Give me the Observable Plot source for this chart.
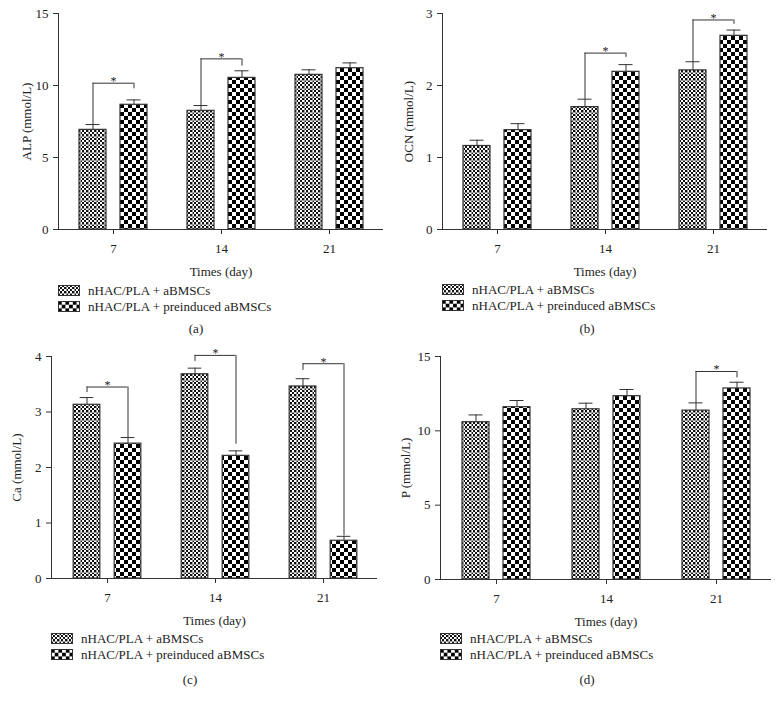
<!DOCTYPE html>
<html>
<head>
<meta charset="utf-8">
<script src="https://cdn.jsdelivr.net/npm/d3@7"></script>
<script src="https://cdn.jsdelivr.net/npm/@observablehq/plot@0.6"></script>
<style>
  body { margin: 0; background: #fff; }
  #root { position: relative; width: 782px; height: 706px; font-family: "Liberation Serif", "Times New Roman", serif; color: #222; }
  .panel { position: absolute; width: 391px; height: 353px; }
  .panel svg.chart { position: absolute; left: 0; top: 0; overflow: visible; }
  .legend { position: absolute; font-size: 13px; line-height: 15.5px; }
  .row { display: flex; align-items: center; height: 15.5px; white-space: nowrap; }
  .sw { width: 22px; height: 11px; margin-right: 8px; display: block; }
  .cap { position: absolute; font-size: 13px; transform: translate(-50%, -50%); }
</style>
</head>
<body>
<svg width="0" height="0" style="position:absolute">
  <defs>
    <pattern id="pFine" patternUnits="userSpaceOnUse" width="8" height="8">
      <rect width="8" height="8" fill="#fff"/>
      <path d="M0 0h2v2H0zM4 0h2v2H4zM2 2h2v2H2zM6 2h2v2H6zM0 4h2v2H0zM4 4h2v2H4zM2 6h2v2H2zM6 6h2v2H6z" fill="#111"/>
      <path d="M0 0.5H8M0.5 0V8" stroke="#9a9a9a" stroke-width="1"/>
    </pattern>
    <pattern id="pBig" patternUnits="userSpaceOnUse" width="8" height="8">
      <rect width="8" height="8" fill="#fff"/>
      <path d="M0 0h4v4H0zM4 4h4v4H4z" fill="#000"/>
    </pattern>
    <pattern id="pBigLeg" patternUnits="userSpaceOnUse" width="7.4" height="7.4">
      <rect width="7.4" height="7.4" fill="#fff"/>
      <path d="M0 0h3.7v3.7H0zM3.7 3.7h3.7v3.7H3.7z" fill="#000"/>
    </pattern>
  </defs>
</svg>
<div id="root"></div>
<script>
// ---------- data ----------
const days = ["7", "14", "21"];
const groupNames = ["nHAC/PLA + aBMSCs", "nHAC/PLA + preinduced aBMSCs"];

// (a) ALP
const alpMean1 = [6.92, 8.24, 10.74];
const alpSd1   = [0.37, 0.37, 0.35];
const alpMean2 = [8.66, 10.53, 11.20];
const alpSd2   = [0.34, 0.49, 0.37];
const alpBrackets = [
  {day: "7",  top: 10.16, left: 7.29, right: 9.77},
  {day: "14", top: 11.85, left: 8.61, right: 11.34}
];
const alpTicks = [0, 5, 10, 15];

// (b) OCN
const ocnMean1 = [1.16, 1.70, 2.21];
const ocnSd1   = [0.08, 0.11, 0.12];
const ocnMean2 = [1.38, 2.19, 2.69];
const ocnSd2   = [0.09, 0.10, 0.08];
const ocnBrackets = [
  {day: "14", top: 2.45, left: 1.81, right: 2.39},
  {day: "21", top: 2.91, left: 2.33, right: 2.85}
];
const ocnTicks = [0, 1, 2, 3];

// (c) Ca
const caMean1 = [3.13, 3.68, 3.46];
const caSd1   = [0.13, 0.11, 0.14];
const caMean2 = [2.43, 2.21, 0.68];
const caSd2   = [0.11, 0.09, 0.08];
const caBrackets = [
  {day: "7",  top: 3.45, left: 3.35, right: 2.54},
  {day: "14", top: 4.02, left: 3.91, right: 2.42},
  {day: "21", top: 3.87, left: 3.75, right: 0.77}
];
const caTicks = [0, 1, 2, 3, 4];

// (d) P
const pMean1 = [10.58, 11.45, 11.36];
const pSd1   = [0.49, 0.41, 0.52];
const pMean2 = [11.59, 12.33, 12.85];
const pSd2   = [0.45, 0.45, 0.42];
const pBrackets = [
  {day: "21", top: 13.99, left: 11.88, right: 13.56}
];
const pTicks = [0, 5, 10, 15];

// ---------- panels ----------
const panels = [
  {cap: "(a)", left: 0, top: 0, label: "ALP (mmol/L)", ticks: alpTicks, m1: alpMean1, s1: alpSd1, m2: alpMean2, s2: alpSd2, br: alpBrackets,
   L: {ml: 58, mr: 8, mt: 13, axisB: 229, ylo: 37}, leg: {x: 58, y: 283}, capPos: {x: 196, y: 329}},
  {cap: "(b)", left: 391, top: 0, label: "OCN (mmol/L)", ticks: ocnTicks, m1: ocnMean1, s1: ocnSd1, m2: ocnMean2, s2: ocnSd2, br: ocnBrackets,
   L: {ml: 51, mr: 15, mt: 13, axisB: 229, ylo: 39}, leg: {x: 51, y: 282}, capPos: {x: 196, y: 329}},
  {cap: "(c)", left: 0, top: 340, label: "Ca (mmol/L)", ticks: caTicks, m1: caMean1, s1: caSd1, m2: caMean2, s2: caSd2, br: caBrackets,
   L: {ml: 51, mr: 14, mt: 16, axisB: 238, ylo: 40}, leg: {x: 51, y: 291}, capPos: {x: 190, y: 340}},
  {cap: "(d)", left: 391, top: 340, label: "P (mmol/L)", ticks: pTicks, m1: pMean1, s1: pSd1, m2: pMean2, s2: pSd2, br: pBrackets,
   L: {ml: 49, mr: 11, mt: 16, axisB: 239, ylo: 40}, leg: {x: 49, y: 291}, capPos: {x: 196, y: 340}}
];

const root = document.getElementById("root");
const W = 391;
const off = 20.5;   // bar centre offset from band centre
const barW = 27;
const capW = 14;
const lineC = "#333";
const FS = 13;

for (const p of panels) {
  const rows = days.map((d, i) => ({day: d, m1: p.m1[i], s1: p.s1[i], m2: p.m2[i], s2: p.s2[i]}));
  const H = p.L.axisB + 52;
  const bw = (W - p.L.ml - p.L.mr - 1) / days.length;
  const yMax = p.ticks[p.ticks.length - 1];

  const chart = Plot.plot({
    width: W,
    height: H,
    marginLeft: p.L.ml,
    marginRight: p.L.mr,
    marginTop: p.L.mt,
    marginBottom: H - p.L.axisB,
    style: {fontFamily: '"Liberation Serif", "Times New Roman", serif', fontSize: FS + "px", color: lineC, background: "transparent"},
    x: {type: "band", domain: days, padding: 0, insetLeft: 1},
    y: {domain: [0, yMax]},
    marks: [
      Plot.barY(rows, {x: "day", y: "m1", fill: "url(#pFine)", stroke: lineC, strokeWidth: 1.2,
        insetLeft: bw / 2 - off - barW / 2, insetRight: bw / 2 + off - barW / 2}),
      Plot.barY(rows, {x: "day", y: "m2", fill: "url(#pBig)", stroke: lineC, strokeWidth: 1.2,
        insetLeft: bw / 2 + off - barW / 2, insetRight: bw / 2 - off - barW / 2}),
      // error bars
      Plot.ruleX(rows, {x: "day", y1: "m1", y2: d => d.m1 + d.s1, dx: -off, stroke: lineC}),
      Plot.tickY(rows, {x: "day", y: d => d.m1 + d.s1, dx: -off, stroke: lineC, insetLeft: bw / 2 - capW / 2, insetRight: bw / 2 - capW / 2}),
      Plot.ruleX(rows, {x: "day", y1: "m2", y2: d => d.m2 + d.s2, dx: off, stroke: lineC}),
      Plot.tickY(rows, {x: "day", y: d => d.m2 + d.s2, dx: off, stroke: lineC, insetLeft: bw / 2 - capW / 2, insetRight: bw / 2 - capW / 2}),
      // significance brackets
      Plot.ruleX(p.br, {x: "day", y1: "left", y2: "top", dx: -off, stroke: lineC}),
      Plot.ruleX(p.br, {x: "day", y1: "right", y2: "top", dx: off, stroke: lineC}),
      Plot.tickY(p.br, {x: "day", y: "top", stroke: lineC, insetLeft: bw / 2 - off, insetRight: bw / 2 - off}),
      Plot.text(p.br, {x: "day", y: "top", text: () => "*", lineAnchor: "middle", dy: -2, fontSize: 12, fill: "#222"}),
      // axes
      Plot.ruleY([0], {stroke: lineC}),
      Plot.frame({anchor: "left", stroke: lineC}),
      Plot.axisY({ticks: p.ticks, tickFormat: d3.format("d"), tickSize: 5, tickPadding: 5, fontSize: FS,
        label: p.label, labelAnchor: "center", labelOffset: p.L.ylo, labelArrow: "none", fill: "#222"}),
      Plot.axisX({tickSize: 5, tickPadding: 9, fontSize: FS, label: "Times (day)", labelAnchor: "center", labelOffset: 46, fill: "#222"})
    ]
  });
  chart.classList.add("chart");

  const panel = document.createElement("div");
  panel.className = "panel";
  panel.style.left = p.left + "px";
  panel.style.top = p.top + "px";
  panel.appendChild(chart);

  // legend
  const leg = document.createElement("div");
  leg.className = "legend";
  leg.style.left = p.leg.x + "px";
  leg.style.top = p.leg.y + "px";
  const fills = ["url(#pFine)", "url(#pBigLeg)"];
  groupNames.forEach((g, i) => {
    const row = document.createElement("div");
    row.className = "row";
    const sw = document.createElementNS("http://www.w3.org/2000/svg", "svg");
    sw.setAttribute("class", "sw");
    sw.setAttribute("width", 22);
    sw.setAttribute("height", 11);
    const r = document.createElementNS("http://www.w3.org/2000/svg", "rect");
    r.setAttribute("x", 0.5); r.setAttribute("y", 0.5);
    r.setAttribute("width", 21); r.setAttribute("height", 10);
    r.setAttribute("fill", fills[i]);
    r.setAttribute("stroke", lineC);
    sw.appendChild(r);
    const t = document.createElement("span");
    t.textContent = g;
    row.appendChild(sw);
    row.appendChild(t);
    leg.appendChild(row);
  });
  panel.appendChild(leg);

  const cap = document.createElement("div");
  cap.className = "cap";
  cap.style.left = p.capPos.x + "px";
  cap.style.top = p.capPos.y + "px";
  cap.textContent = p.cap;
  panel.appendChild(cap);

  root.appendChild(panel);
}
</script>
</body>
</html>
